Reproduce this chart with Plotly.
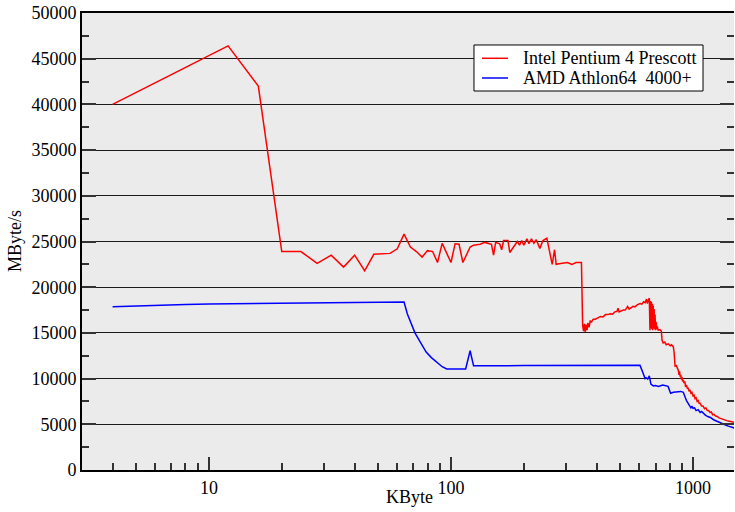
import math
import plotly.graph_objects as go

# ---- data ----
intel_kb = [4, 12, 16, 20, 24, 28, 32, 36, 40, 44, 48, 52, 56, 60, 64, 68, 72, 76, 80, 84, 88, 92,
            100, 104, 108, 112, 120, 124, 132, 138, 147, 150, 153, 159, 162, 165, 172, 175, 184, 188,
            192, 196, 200, 206, 210, 215, 220, 225, 233, 240, 249, 256, 262, 268, 272, 284, 303, 316,
            329, 346,
            350, 353, 356, 359, 362, 365, 368, 372, 376, 381, 387, 395, 405, 415, 425, 435, 445, 455,
            465, 475, 485, 490, 495, 505, 515, 525, 537, 545, 555, 565, 575, 590, 605, 615, 625, 635,
            642, 648, 654, 660, 664, 667, 670, 673, 676, 679, 682, 685, 688, 691, 694, 697, 700, 704,
            708, 712, 718, 730, 740, 745, 753, 765, 775, 790, 805, 815, 829, 836, 843, 852, 860, 865,
            870, 875, 880, 885, 890, 895, 900, 906, 912, 918, 925, 932, 940, 948, 955, 963, 972, 980,
            990, 1000, 1010, 1020, 1030, 1040, 1050, 1060, 1070, 1085, 1100, 1115, 1130, 1145, 1160,
            1175, 1190, 1205, 1220, 1240, 1260, 1280, 1293, 1310, 1330, 1355, 1380, 1400, 1423, 1440,
            1460, 1480, 1500]
intel_mbs = [40000, 46400, 42000, 23900, 23900, 22600, 23500, 22200, 23500, 21800, 23600, 23650, 23700,
             24200, 25800, 24400, 23900, 23300, 24000, 23900, 22700, 24800,
             22700, 24750, 24700, 22700, 24400, 24600, 24700, 24900, 24700, 23500, 24900, 24750, 24100,
             25100, 25100, 23800, 24600, 25000, 24600, 25100, 24600, 25300, 24750, 25300, 24800, 25200,
             24250, 25100, 25350, 23700, 22500, 24100, 22500, 22600, 22700, 22500, 22700, 22700,
             15800, 15200, 16000, 15100, 15900, 15300, 16100, 15600, 16300, 16200, 16500, 16500, 16700,
             16800, 16750, 17000, 17000, 17100, 17050, 17300, 17350, 17700, 17300, 17400, 17500, 17500,
             17900, 17600, 17800, 17900, 17850, 18100, 18200, 18150, 18400, 18300, 18700, 18200, 18600,
             18800, 15300, 18500, 15500, 18400, 15400, 18200, 15300, 18000, 15500, 17600, 15400, 17000,
             15300, 16200, 15400, 15700, 15300, 15350, 15200, 14200, 13900, 14000, 13700, 13800, 13600,
             13700, 13500, 12800, 11300, 11500, 11200, 11000, 10900, 10400, 10800, 10200, 10400, 9900,
             10200, 9700, 9850, 9500, 9700, 9100, 9300, 8900, 9000, 8600, 8750, 8400, 8500, 8100, 8200,
             7800, 7900, 7500, 7600, 7300, 7300, 7000, 7000, 6700, 6800, 6500, 6500, 6300, 6350, 6050,
             6100, 5900, 5850, 5700, 5650, 5600, 5500, 5450, 5400, 5350, 5300, 5300, 5250, 5200, 5200]

amd_kb = [4, 5, 6, 8, 10, 16, 32, 64, 66, 71, 75, 79, 83, 87, 92, 96, 115, 120, 124, 200, 300, 400,
          500, 604, 620, 634, 640, 650, 660, 670, 686, 700, 720, 750, 789, 800, 808, 830, 860, 890,
          912, 920, 930, 940, 955, 965, 980, 990, 1000, 1015, 1030, 1050, 1070, 1085, 1104, 1125,
          1150, 1180, 1216, 1240, 1270, 1300, 1337, 1370, 1400, 1450, 1500]
amd_mbs = [17850, 17950, 18020, 18100, 18150, 18220, 18300, 18380, 17100, 15000, 13900, 12900, 12300,
           11850, 11300, 11050, 11050, 13050, 11400, 11420, 11430, 11450, 11460, 11450, 10700, 10000,
           10100, 9950, 10300, 9400, 9200, 9250, 9150, 9300, 9150, 8600, 8400, 8500, 8550, 8600, 8500,
           8100, 7900, 7600, 7300, 7200, 6800, 7000, 6750, 6800, 6500, 6600, 6300, 6400, 6200, 6000,
           5850, 5750, 5500, 5400, 5200, 5150, 5000, 4900, 4800, 4700, 4550]

series_names = ["Intel Pentium 4 Prescott", "AMD Athlon64  4000+"]
series_colors = ["#ff0000", "#0000ff"]
x_tick_vals = [10, 100, 1000]
x_tick_text = ["10", "100", "1000"]
x_title = "KByte"
y_title = "MByte/s"

FONT = "'Liberation Serif', 'Times New Roman', 'DejaVu Serif', serif"

fig = go.Figure()
fig.add_trace(go.Scatter(x=intel_kb, y=intel_mbs, mode="lines", name=series_names[0],
                         line=dict(color=series_colors[0], width=1.5), showlegend=False))
fig.add_trace(go.Scatter(x=amd_kb, y=amd_mbs, mode="lines", name=series_names[1],
                         line=dict(color=series_colors[1], width=1.5), showlegend=False))
# invisible trace to carry the right-hand y ticks
fig.add_trace(go.Scatter(x=[4], y=[0], yaxis="y2", mode="markers", marker=dict(opacity=0),
                         showlegend=False, hoverinfo="skip"))

minor_x = [m * 10 ** e for e in range(0, 4) for m in range(2, 10) if 3 <= m * 10 ** e <= 1500]

# ---- legend box drawn in paper coordinates ----
shapes = [dict(type="rect", xref="paper", yref="paper", x0=0.6012, x1=0.9525, y0=0.8293, y1=0.930,
               fillcolor="white", line=dict(color="black", width=1), layer="above")]
annotations = []
legend_rows = [0.9009, 0.8578]
for name, color, yy in zip(series_names, series_colors, legend_rows):
    shapes.append(dict(type="line", xref="paper", yref="paper", x0=0.6135, x1=0.6534, y0=yy, y1=yy,
                       line=dict(color=color, width=1.5), layer="above"))
    annotations.append(dict(text=name, xref="paper", yref="paper", x=0.6733, y=yy,
                            xanchor="left", yanchor="middle", showarrow=False,
                            font=dict(family=FONT, size=18, color="black")))
annotations.append(dict(text=x_title, xref="paper", yref="paper", x=0.503, y=-0.059,
                        xanchor="center", yanchor="middle", showarrow=False,
                        font=dict(family=FONT, size=18, color="black")))
annotations.append(dict(text=y_title, xref="paper", yref="paper", x=-0.1028, y=0.501,
                        xanchor="center", yanchor="middle", showarrow=False, textangle=-90,
                        font=dict(family=FONT, size=18, color="black")))

fig.update_layout(
    width=735, height=512,
    margin=dict(l=82, r=1, t=13, b=42, autoexpand=False),
    paper_bgcolor="white",
    plot_bgcolor="#ebebeb",
    font=dict(family=FONT, size=18, color="black"),
    xaxis=dict(
        type="log", automargin=False,
        range=[math.log10(2.99), math.log10(1477)],
        tickvals=x_tick_vals, ticktext=x_tick_text,
        ticks="inside", ticklen=13, tickwidth=1.5, tickcolor="#333",
        minor=dict(tickvals=minor_x, ticks="inside", ticklen=7, tickwidth=1.5, tickcolor="#333",
                   showgrid=False),
        showgrid=False, zeroline=False,
        showline=True, linecolor="black", linewidth=2, mirror=True,
        tickfont=dict(family=FONT, size=18),
    ),
    yaxis=dict(
        automargin=False,
        range=[0, 50000], dtick=5000, tick0=0, tickformat="d",
        ticks="inside", ticklen=14, tickwidth=1.5, tickcolor="#333",
        minor=dict(dtick=2500, ticks="inside", ticklen=7, tickwidth=1.5, tickcolor="#333",
                   showgrid=False),
        showgrid=True, gridcolor="#1a1a1a", gridwidth=1,
        zeroline=False,
        showline=True, linecolor="black", linewidth=2,
        tickfont=dict(family=FONT, size=18),
    ),
    yaxis2=dict(
        automargin=False,
        overlaying="y", side="right", range=[0, 50000], dtick=5000, tick0=0,
        ticks="inside", ticklen=14, tickwidth=1.5, tickcolor="#333",
        minor=dict(dtick=2500, ticks="inside", ticklen=7, tickwidth=1.5, tickcolor="#333",
                   showgrid=False),
        showticklabels=False, showgrid=False, zeroline=False, showline=False,
    ),
    shapes=shapes,
    annotations=annotations,
    showlegend=False,
)

fig.write_html(
    "out.html",
    config={"displayModeBar": False},
    post_script="document.body.style.margin='0px';document.body.style.overflow='hidden';",
)
